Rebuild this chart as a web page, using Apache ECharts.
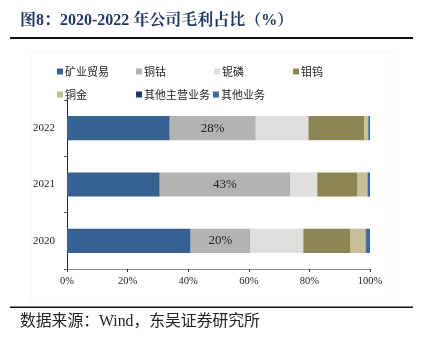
<!DOCTYPE html>
<html>
<head>
<meta charset="utf-8">
<script src="https://cdn.jsdelivr.net/npm/echarts@6/dist/echarts.min.js"></script>
<style>
html,body{margin:0;padding:0;background:#fff;}
#c{width:422px;height:344px;}
</style>
</head>
<body>
<div id="c"></div>
<script>
const categories = ['2020', '2021', '2022'];
const seriesNames = ['矿业贸易', '铜钴', '铌磷', '钼钨', '铜金', '其他主营业务', '其他业务'];
const kuangye = [40.8, 30.6, 33.9];
const tonggu = [19.6, 43.0, 28.4];
const nilin = [17.6, 9.0, 17.4];
const muwu = [15.6, 13.3, 18.4];
const tongjin = [5.0, 3.3, 1.3];
const qitaZhuying = [0.1, 0.1, 0.1];
const qitaYewu = [1.3, 0.7, 0.5];
const xTicks = [0, 20, 40, 60, 80, 100];

const values = [kuangye, tonggu, nilin, muwu, tongjin, qitaZhuying, qitaYewu];
const colors = ['#386193', '#B3B3B3', '#DFDFDF', '#8E8652', '#C7BF98', '#1F3A60', '#3C68A3'];
const legendPos = [[57, 66], [136, 66], [214, 66], [293, 66], [57, 89], [136, 89], [213, 89]];

const serif = '"Liberation Serif", "Noto Serif CJK SC", "Noto Sans CJK SC", serif';
const cjk = '"Noto Sans CJK SC", sans-serif';

const chart = echarts.init(document.getElementById('c'), null, {renderer: 'canvas'});

const legends = seriesNames.map((n, i) => ({
  data: [n],
  left: legendPos[i][0],
  top: legendPos[i][1],
  itemWidth: 6,
  itemHeight: 6,
  itemGap: 0,
  padding: 0,
  icon: 'rect',
  selectedMode: false,
  textStyle: {fontSize: 11, fontFamily: cjk, color: '#222', padding: [0, 0, 0, -3]}
}));

const series = seriesNames.map((n, i) => ({
  name: n,
  type: 'bar',
  stack: 'total',
  barWidth: '43%',
  data: values[i],
  itemStyle: {color: colors[i]},
  label: i === 1 ? {
    show: true,
    position: 'inside',
    formatter: p => Math.round(p.value) + '%',
    fontFamily: serif,
    fontSize: 13,
    color: '#222'
  } : {show: false},
  emphasis: {disabled: true}
}));

chart.setOption({
  animation: false,
  backgroundColor: '#fff',
  legend: legends,
  grid: {left: 67, right: 52, top: 100, bottom: 75},
  xAxis: {
    type: 'value',
    min: xTicks[0],
    max: xTicks[xTicks.length - 1],
    interval: xTicks[1] - xTicks[0],
    splitLine: {show: false},
    axisLine: {show: true, lineStyle: {color: '#8c8c8c', width: 1}},
    axisTick: {show: true, length: 3, lineStyle: {color: '#333'}},
    axisLabel: {formatter: '{value}%', fontFamily: serif, fontSize: 10.5, color: '#222', margin: 7}
  },
  yAxis: {
    type: 'category',
    data: categories,
    axisLine: {show: true, lineStyle: {color: '#262626', width: 1}},
    axisTick: {show: true, length: 3, lineStyle: {color: '#555'}},
    axisLabel: {fontFamily: serif, fontSize: 11, color: '#222', margin: 12}
  },
  series: series,
  graphic: [
    {type: 'rect', shape: {x: 31, y: 52, width: 361, height: 250}, style: {fill: 'none', stroke: '#f8f8f8', lineWidth: 1}, silent: true},
    {type: 'text', left: 20, top: 13, style: {text: '图8：2020-2022 年公司毛利占比（%）', font: 'bold 16px "Liberation Serif", "Noto Serif CJK SC", "Noto Sans CJK SC", serif', fill: '#1F3864'}},
    {type: 'rect', shape: {x: 10, y: 37, width: 403, height: 2}, style: {fill: '#111'}, silent: true},
    {type: 'rect', shape: {x: 10, y: 306.5, width: 403, height: 1.5}, style: {fill: '#111'}, silent: true},
    {type: 'text', left: 20, top: 314, style: {text: '数据来源：Wind，东吴证券研究所', font: '15.8px "Liberation Serif", "Noto Sans CJK SC", serif', fill: '#222'}}
  ]
});
</script>
</body>
</html>
